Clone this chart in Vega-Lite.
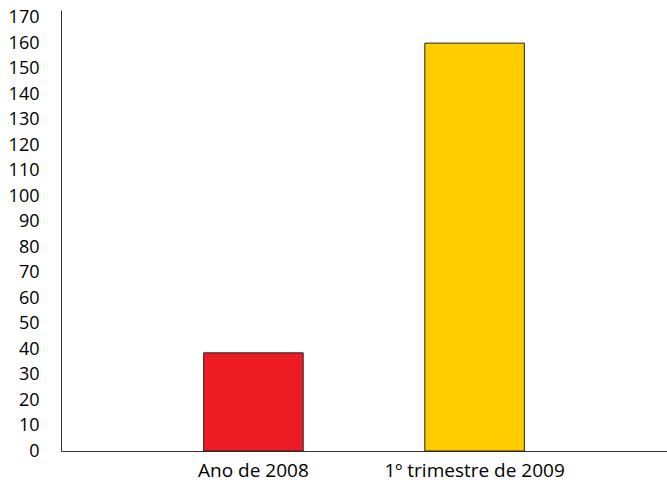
{
  "$schema": "https://vega.github.io/schema/vega-lite/v6.json",
  "autosize": {"type": "none"},
  "padding": {"left": 61, "top": 10, "right": 0, "bottom": 32},
  "width": 606,
  "height": 441,
  "background": "white",
  "data": {"values": [
    {"periodo": "Ano de 2008", "valor": 38.5, "cor": "#ED1C24"},
    {"periodo": "1º trimestre de 2009", "valor": 160, "cor": "#FFCC00"}
  ]},
  "config": {
    "view": {"stroke": null},
    "font": "Open Sans",
    "axis": {"grid": false, "ticks": false, "domainColor": "#333333", "domainWidth": 1, "labelFont": "Open Sans", "labelColor": "#000000", "title": null}
  },
  "mark": {"type": "bar", "stroke": "#222222", "strokeWidth": 1},
  "encoding": {
    "x": {"field": "periodo", "type": "nominal", "sort": null,
      "scale": {"paddingInner": 0.55, "paddingOuter": 0.645},
      "axis": {"labelAngle": 0, "labelPadding": 10, "labelFontSize": 19, "labelLimit": 400}},
    "y": {"field": "valor", "type": "quantitative",
      "scale": {"domain": [0, 173], "nice": false},
      "axis": {"values": [0,10,20,30,40,50,60,70,80,90,100,110,120,130,140,150,160,170], "labelPadding": 22, "labelFontSize": 18}},
    "fill": {"field": "cor", "type": "nominal", "scale": null}
  }
}
